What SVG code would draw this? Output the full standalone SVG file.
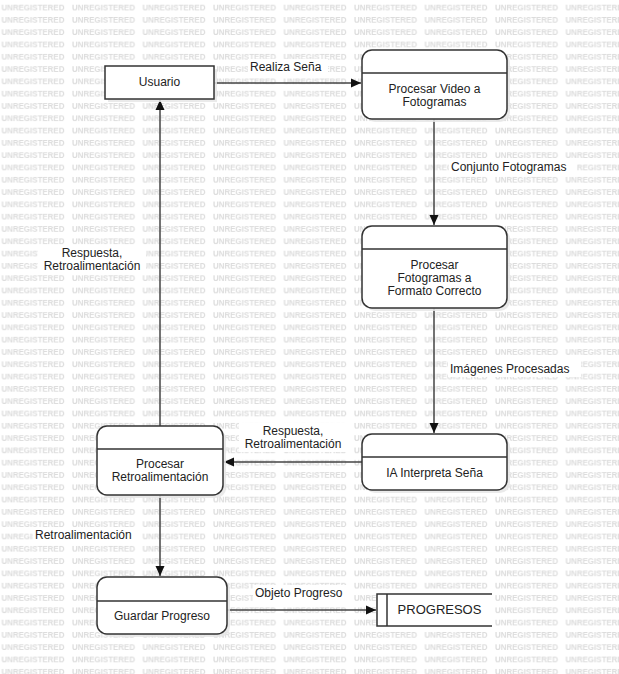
<svg xmlns="http://www.w3.org/2000/svg" width="619" height="674" viewBox="0 0 619 674">
<defs>
<style>
.wm{font-family:"Liberation Sans",Arial,sans-serif;font-size:9px;font-weight:bold;fill:#dcdcdc}
.box{fill:#ffffff;stroke:#333333;stroke-width:1.5}
.shadow{fill:#e6e6e6;opacity:0.85}
.div{stroke:#333333;stroke-width:1.5}
.t{font-family:"Liberation Sans",Arial,sans-serif;font-size:12px;fill:#222222;text-anchor:middle}
.lbl{font-family:"Liberation Sans",Arial,sans-serif;font-size:12px;fill:#222222}
.bg{fill:#ffffff}
.edge{fill:none;stroke:#444444;stroke-width:1.5}
</style>
<pattern id="wmp" x="1.5" y="0" width="70.5" height="12.3" patternUnits="userSpaceOnUse">
<rect width="70.5" height="12.3" fill="#ffffff"/>
<text class="wm" x="0" y="10.5" textLength="63" lengthAdjust="spacingAndGlyphs">UNREGISTERED</text>
</pattern>
<marker id="arr" viewBox="0 0 10 10" refX="10" refY="5" markerWidth="10" markerHeight="10" markerUnits="userSpaceOnUse" orient="auto">
<path d="M0,0.5 L10,5 L0,9.5 Z" fill="#111111"/>
</marker>
</defs>
<rect x="0" y="0" width="619" height="674" fill="url(#wmp)"/>

<g id="connectors">
<g id="e1"><line class="edge" x1="214" y1="83" x2="361" y2="83" marker-end="url(#arr)"/>
<rect class="bg" x="248" y="59" width="80" height="16"/><text class="lbl" x="250" y="71">Realiza Seña</text></g>
<g id="e2"><line class="edge" x1="434" y1="119" x2="434" y2="225" marker-end="url(#arr)"/>
<rect class="bg" x="449" y="159" width="128" height="16"/><text class="lbl" x="451" y="171">Conjunto Fotogramas</text></g>
<g id="e3"><line class="edge" x1="434" y1="308" x2="434" y2="433" marker-end="url(#arr)"/>
<rect class="bg" x="448" y="361" width="133" height="16"/><text class="lbl" x="450" y="373">Imágenes Procesadas</text></g>
<g id="e4"><line class="edge" x1="362" y1="462" x2="224" y2="462" marker-end="url(#arr)"/>
<rect class="bg" x="239" y="423" width="108" height="29"/>
<text class="t" x="293" y="435">Respuesta,</text><text class="t" x="293" y="448">Retroalimentación</text></g>
<g id="e5"><line class="edge" x1="160" y1="426" x2="160" y2="100" marker-end="url(#arr)"/>
<rect class="bg" x="38" y="245" width="108" height="29"/>
<text class="t" x="92" y="257">Respuesta,</text><text class="t" x="92" y="270">Retroalimentación</text></g>
<g id="e6"><line class="edge" x1="160" y1="495" x2="160" y2="576" marker-end="url(#arr)"/>
<rect class="bg" x="33" y="527" width="107" height="16"/><text class="lbl" x="35" y="539">Retroalimentación</text></g>
<g id="e7"><line class="edge" x1="227" y1="610" x2="376" y2="610" marker-end="url(#arr)"/>
<rect class="bg" x="253" y="585" width="98" height="16"/><text class="lbl" x="255" y="597">Objeto Progreso</text></g>
</g>

<g id="usuario">
<rect class="shadow" x="108" y="69" width="109" height="33"/>
<rect class="box" x="105" y="66" width="109" height="33"/>
<text class="t" x="159.5" y="86">Usuario</text>
</g>

<g id="procesar-video">
<rect class="shadow" x="365" y="53" width="145" height="69" rx="10"/>
<rect class="box" x="362" y="50" width="145" height="69" rx="10"/>
<line class="div" x1="362" y1="73" x2="507" y2="73"/>
<text class="t" x="434.5" y="93">Procesar Video a</text>
<text class="t" x="434.5" y="106">Fotogramas</text>
</g>

<g id="procesar-fotogramas">
<rect class="shadow" x="365" y="229" width="145" height="82" rx="10"/>
<rect class="box" x="362" y="226" width="145" height="82" rx="10"/>
<line class="div" x1="362" y1="249" x2="507" y2="249"/>
<text class="t" x="434.5" y="269">Procesar</text>
<text class="t" x="434.5" y="282">Fotogramas a</text>
<text class="t" x="434.5" y="295">Formato Correcto</text>
</g>

<g id="ia-interpreta">
<rect class="shadow" x="365" y="437" width="145" height="56" rx="10"/>
<rect class="box" x="362" y="434" width="145" height="56" rx="10"/>
<line class="div" x1="362" y1="457" x2="507" y2="457"/>
<text class="t" x="434.5" y="477">IA Interpreta Seña</text>
</g>

<g id="procesar-retro">
<rect class="shadow" x="100" y="429" width="126" height="69" rx="10"/>
<rect class="box" x="97" y="426" width="126" height="69" rx="10"/>
<line class="div" x1="97" y1="449" x2="223" y2="449"/>
<text class="t" x="160" y="468">Procesar</text>
<text class="t" x="160" y="481">Retroalimentación</text>
</g>

<g id="guardar-progreso">
<rect class="shadow" x="100" y="580" width="130" height="57" rx="10"/>
<rect class="box" x="97" y="577" width="130" height="57" rx="10"/>
<line class="div" x1="97" y1="601" x2="227" y2="601"/>
<text class="t" x="162" y="620">Guardar Progreso</text>
</g>

<g id="progresos">
<rect class="bg" x="377" y="594" width="115" height="32"/>
<path d="M492,594 L377,594 L377,626 L492,626" fill="none" stroke="#333333" stroke-width="1.5"/>
<line class="div" x1="387" y1="594" x2="387" y2="626"/>
<text class="t" x="439.5" y="614" style="font-size:13px">PROGRESOS</text>
</g>
</svg>
